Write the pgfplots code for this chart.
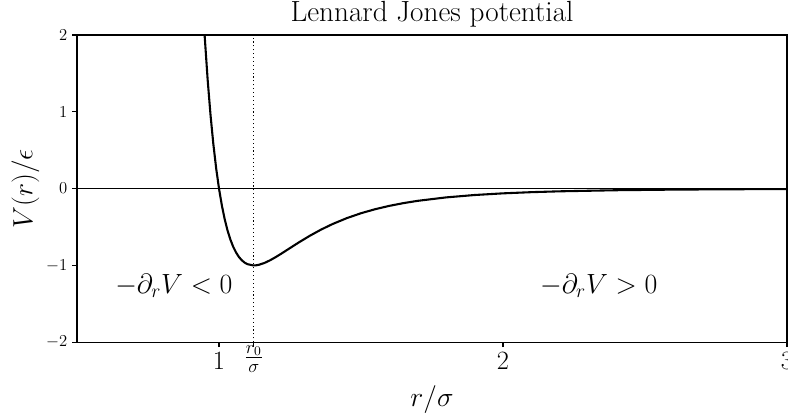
\RequirePackage{fix-cm}
\documentclass[border=0pt]{standalone}
\usepackage{amsmath}
\usepackage{pgfplots}
\pgfplotsset{compat=1.18}
\usetikzlibrary{calc}

% LJ potential V/eps = 4[(1/r)^12 - (1/r)^6], values read/evaluated at sample radii
\pgfplotstableread{
r       V
0.9493  2.000
0.95    1.961
0.96    1.418
0.97    0.963
0.98    0.582
0.99    0.2641
1.00    0.0
1.01   -0.2184
1.02   -0.3979
1.03   -0.5444
1.04   -0.6628
1.05   -0.7575
1.06   -0.8320
1.07   -0.8893
1.08   -0.9322
1.09   -0.9629
1.10   -0.9834
1.12   -0.9998
1.1225 -1.0
1.13   -0.9984
1.14   -0.9921
1.16   -0.9679
1.18   -0.9328
1.20   -0.8910
1.22   -0.8452
1.24   -0.7976
1.28   -0.7028
1.32   -0.6133
1.36   -0.5323
1.40   -0.4607
1.45   -0.3842
1.50   -0.3203
1.55   -0.2677
1.60   -0.2242
1.65   -0.1884
1.70   -0.1588
1.80   -0.1141
1.90   -0.0832
2.00   -0.0615
2.10   -0.0461
2.20   -0.0350
2.40   -0.0208
2.60   -0.0129
2.80   -0.0083
3.00   -0.0055
}\ljdata

\begin{document}
\begin{tikzpicture}
\begin{axis}[
  scale only axis,
  width=510.8pt,
  height=221pt,
  xmin=0.5, xmax=3,
  ymin=-2, ymax=2,
  xtick={1,2,3},
  ytick={-2,-1,0,1,2},
  extra x ticks={1.1225},
  extra x tick labels={$\frac{r_0}{\sigma}$},
  extra x tick style={tick label style={font=\fontsize{24}{28}\selectfont, yshift=5pt}},
  x tick label style={font=\fontsize{19}{22}\selectfont},
  y tick label style={font=\fontsize{12}{14}\selectfont},
  tick align=outside,
  major tick length=3.5pt,
  tick style={black, line width=0.8pt},
  axis line style={line width=0.8pt},
  xtick pos=bottom, ytick pos=left,
  title={Lennard Jones potential},
  title style={font=\fontsize{21}{25}\selectfont, yshift=-4pt},
  xlabel={$r/\sigma$},
  ylabel={$V(r)/\epsilon$},
  label style={font=\fontsize{20}{24}\selectfont},
  xlabel style={yshift=2pt},
  ylabel style={yshift=-2pt},
  clip=true,
]
\addplot[black, line width=0.6pt, forget plot] coordinates {(0.5,0) (3,0)};
\addplot[black, line width=0.8pt, dotted, forget plot] coordinates {(1.1225,-2) (1.1225,2)};
\addplot[black, line width=1.5pt] table[x=r, y=V] {\ljdata};
\node[anchor=base west, font=\fontsize{20}{24}\selectfont, inner sep=0pt] at (axis cs:0.634,-1.36) {$-\partial_r V < 0$};
\node[anchor=base west, font=\fontsize{20}{24}\selectfont, inner sep=0pt] at (axis cs:2.13,-1.36) {$-\partial_r V > 0$};
\end{axis}
\pgfresetboundingbox
\path ($(current axis.south west)+(-55.4pt,-55.4pt)$) rectangle ($(current axis.north east)+(0.7pt,25.2pt)$);
\end{tikzpicture}
\end{document}
